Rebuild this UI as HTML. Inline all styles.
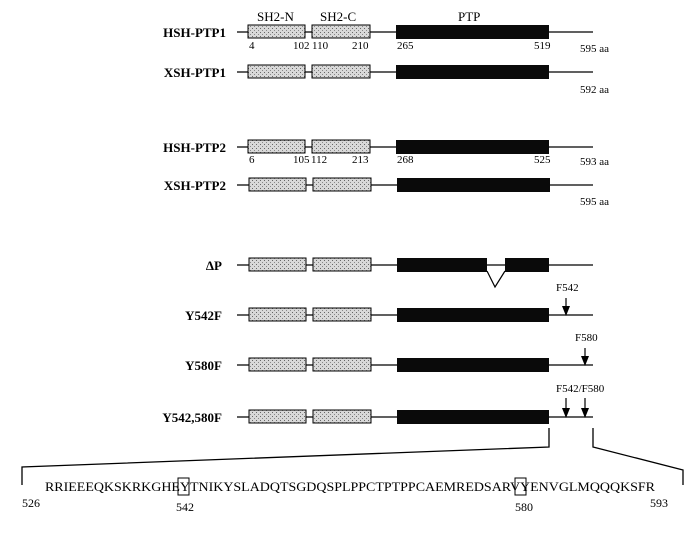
<!DOCTYPE html>
<html><head><style>
body{margin:0;background:#fff;}
svg{display:block;font-family:"Liberation Serif",serif;}
.lb{font-weight:bold;font-size:13px;text-anchor:end;}
.n{font-size:11px;}
</style></head><body>
<svg width="687" height="533" viewBox="0 0 687 533" xmlns="http://www.w3.org/2000/svg">
<defs>
<pattern id="st" width="4" height="4" patternUnits="userSpaceOnUse">
<rect width="4" height="4" fill="#d8d8d8"/><rect width="1" height="1" fill="#666"/><rect x="2" y="2" width="1" height="1" fill="#888"/>
</pattern>
</defs>
<g stroke="#000" stroke-width="1.2" fill="none">
<!-- row lines -->
<line x1="237" y1="32" x2="593" y2="32"/>
<line x1="237" y1="72" x2="593" y2="72"/>
<line x1="237" y1="147" x2="593" y2="147"/>
<line x1="237" y1="185" x2="593" y2="185"/>
<line x1="237" y1="265" x2="593" y2="265"/>
<line x1="237" y1="315" x2="593" y2="315"/>
<line x1="237" y1="365" x2="593" y2="365"/>
<line x1="237" y1="417" x2="593" y2="417"/>
</g>
<g stroke="#000" stroke-width="1" fill="url(#st)">
<rect x="248" y="25" width="57" height="13"/><rect x="312" y="25" width="58" height="13"/>
<rect x="248" y="65" width="57" height="13"/><rect x="312" y="65" width="58" height="13"/>
<rect x="248" y="140" width="57" height="13"/><rect x="312" y="140" width="58" height="13"/>
<rect x="249" y="178" width="57" height="13"/><rect x="313" y="178" width="58" height="13"/>
<rect x="249" y="258" width="57" height="13"/><rect x="313" y="258" width="58" height="13"/>
<rect x="249" y="308" width="57" height="13"/><rect x="313" y="308" width="58" height="13"/>
<rect x="249" y="358" width="57" height="13"/><rect x="313" y="358" width="58" height="13"/>
<rect x="249" y="410" width="57" height="13"/><rect x="313" y="410" width="58" height="13"/>
</g>
<g fill="#0a0a0a">
<rect x="396" y="25" width="153" height="14"/>
<rect x="396" y="65" width="153" height="14"/>
<rect x="396" y="140" width="153" height="14"/>
<rect x="397" y="178" width="153" height="14"/>
<rect x="397" y="258" width="90" height="14"/><rect x="505" y="258" width="44" height="14"/>
<rect x="397" y="308" width="152" height="14"/>
<rect x="397" y="358" width="152" height="14"/>
<rect x="397" y="410" width="152" height="14"/>
</g>
<polyline points="487,271 495,287 505,271" stroke="#000" stroke-width="1.2" fill="none"/>
<!-- arrows -->
<g stroke="#000" stroke-width="1.2">
<line x1="566" y1="298" x2="566" y2="308"/>
<line x1="585" y1="348" x2="585" y2="358"/>
<line x1="566" y1="398" x2="566" y2="410"/>
<line x1="585" y1="398" x2="585" y2="410"/>
</g>
<g fill="#000">
<polygon points="562,306 570,306 566,316"/>
<polygon points="581,356 589,356 585,366"/>
<polygon points="562,408 570,408 566,418"/>
<polygon points="581,408 589,408 585,418"/>
</g>
<!-- bracket -->
<g stroke="#000" stroke-width="1.3" fill="none">
<polyline points="549,428 549,447 22,467 22,485"/>
<polyline points="593,428 593,447 683,470 683,485"/>
</g>
<!-- labels -->
<g class="lb">
<text x="226" y="37">HSH-PTP1</text>
<text x="226" y="77">XSH-PTP1</text>
<text x="226" y="152">HSH-PTP2</text>
<text x="226" y="190">XSH-PTP2</text>
<text x="222" y="270">ΔP</text>
<text x="222" y="320">Y542F</text>
<text x="222" y="370">Y580F</text>
<text x="222" y="422">Y542,580F</text>
</g>
<g font-size="13">
<text x="257" y="21">SH2-N</text>
<text x="320" y="21">SH2-C</text>
<text x="458" y="21">PTP</text>
</g>
<g class="n">
<text x="249" y="49">4</text><text x="293" y="49">102</text><text x="312" y="49">110</text><text x="352" y="49">210</text><text x="397" y="49">265</text><text x="534" y="49">519</text>
<text x="249" y="163">6</text><text x="293" y="163">105</text><text x="311" y="163">112</text><text x="352" y="163">213</text><text x="397" y="163">268</text><text x="534" y="163">525</text>
<text x="580" y="52">595 aa</text>
<text x="580" y="93">592 aa</text>
<text x="580" y="165">593 aa</text>
<text x="580" y="205">595 aa</text>
<text x="556" y="291">F542</text>
<text x="575" y="341">F580</text>
<text x="556" y="392">F542/F580</text>
</g>
<text x="45" y="491" font-size="12.5" textLength="610" lengthAdjust="spacingAndGlyphs">RRIEEEQKSKRKGHEYTNIKYSLADQTSGDQSPLPPCTPTPPCAEMREDSARVYENVGLMQQQKSFR</text>
<rect x="178" y="478" width="11" height="17" fill="none" stroke="#000"/>
<rect x="515" y="478" width="11" height="17" fill="none" stroke="#000"/>
<g font-size="12">
<text x="22" y="507">526</text>
<text x="176" y="511">542</text>
<text x="515" y="511">580</text>
<text x="650" y="507">593</text>
</g>
</svg>
</body></html>
